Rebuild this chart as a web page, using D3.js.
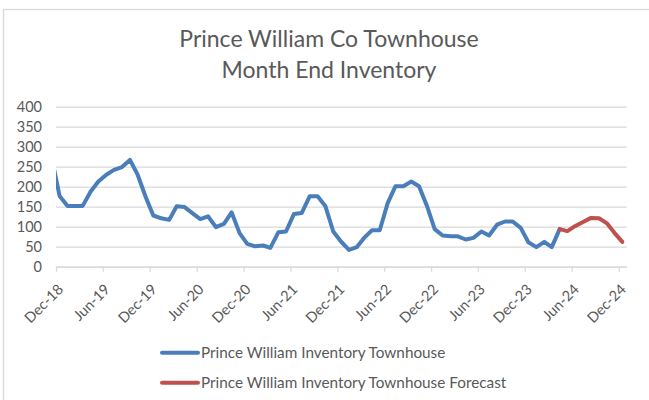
<!DOCTYPE html>
<html>
<head>
<meta charset="utf-8">
<script src="https://cdn.jsdelivr.net/npm/d3@7"></script>
<style>
  body { margin: 0; background: #fff; }
  text { font-family: Lato, "Open Sans", sans-serif; fill: #595959; }
</style>
</head>
<body>
<div id="chart"></div>
<script>
//chart data: monthly inventory, first value is Nov-18 (clipped at the axis start)
var inventoryStart = "2018-11";
var inventory = [270, 177, 152, 152, 152, 188, 213, 230, 242, 249, 267, 230,
  175, 128, 121, 117, 151, 149, 134, 119, 126, 99, 107, 136,
  84, 57, 51, 53, 47, 86, 88, 132, 134, 176, 176, 152,
  88, 63, 42, 49, 72, 91, 91, 159, 201, 201, 213, 201,
  152, 94, 78, 76, 76, 68, 72, 88, 78, 105, 113, 113,
  97, 61, 49, 62, 49, 94];

var forecastStart = "2024-04";
var forecast = [94, 89, 102, 112, 122, 121, 109, 84, 62];

var tickLabels = ["Dec-18", "Jun-19", "Dec-19", "Jun-20", "Dec-20", "Jun-21", "Dec-21",
  "Jun-22", "Dec-22", "Jun-23", "Dec-23", "Jun-24", "Dec-24"];
var yTicks = [0, 50, 100, 150, 200, 250, 300, 350, 400];

var titleLines = ["Prince William Co Townhouse", "Month End Inventory"];
var seriesNames = ["Prince William Inventory Townhouse", "Prince William Inventory Townhouse Forecast"];
var colors = ["#4a7ebb", "#c0504d"];

//sizes
var W = 649, H = 400;
var plot = {left: 56, right: 626.7, top: 106.7, bottom: 266.7};

var parseMonth = d3.timeParse("%Y-%m");
var parseTick = d3.timeParse("%b-%y");

//points sit at mid month
function toPoints(start, values) {
  var s = parseMonth(start);
  return values.map(function(v, i) {
    var m = d3.timeMonth.offset(s, i);
    return {date: d3.timeDay.offset(m, 14), value: v};
  });
}

var series = [toPoints(inventoryStart, inventory), toPoints(forecastStart, forecast)];

var x = d3.scaleTime()
  .domain([new Date(2018, 11, 1), new Date(2025, 0, 1)])
  .range([plot.left, plot.right]);

var y = d3.scaleLinear()
  .domain([0, 400])
  .range([plot.bottom, plot.top]);

var svg = d3.select("#chart").append("svg")
  .attr("width", W)
  .attr("height", H);

//chart border
svg.append("rect")
  .attr("x", 3.5).attr("y", 9.5)
  .attr("width", 700).attr("height", 420)
  .attr("fill", "none")
  .attr("stroke", "#d9d9d9")
  .attr("stroke-width", 1.3);

svg.append("clipPath").attr("id", "clip")
  .append("rect")
  .attr("x", plot.left).attr("y", 0)
  .attr("width", plot.right - plot.left + 6).attr("height", H);

//title
svg.append("text")
  .attr("x", 329)
  .attr("y", 47)
  .attr("text-anchor", "middle")
  .attr("font-size", 23)
  .selectAll("tspan")
  .data(titleLines)
  .enter().append("tspan")
    .attr("x", 329)
    .attr("dy", function(d, i) { return i ? 31 : 0; })
    .text(function(d) { return d; });

//y gridlines + labels
var yAxis = svg.append("g")
  .attr("transform", "translate(" + plot.left + ",0)")
  .call(d3.axisLeft(y).tickValues(yTicks).tickSize(-(plot.right - plot.left)).tickPadding(14));
yAxis.select(".domain").remove();
yAxis.selectAll(".tick line").attr("stroke", "#d9d9d9").attr("stroke-width", 1.3);
yAxis.selectAll(".tick text").attr("font-size", 14.5).attr("font-family", "Lato").attr("fill", "#595959");

//x axis
var xAxis = svg.append("g")
  .attr("transform", "translate(0," + plot.bottom + ")")
  .call(d3.axisBottom(x).tickValues(tickLabels.map(parseTick)).tickSize(5).tickSizeOuter(0)
    .tickFormat(d3.timeFormat("%b-%y")));
xAxis.select(".domain").attr("stroke", "#d9d9d9").attr("stroke-width", 1.3);
xAxis.selectAll(".tick line").attr("stroke", "#d9d9d9").attr("stroke-width", 1.3);
xAxis.selectAll(".tick text")
  .attr("font-size", 14.5)
  .attr("font-family", "Lato")
  .attr("fill", "#595959")
  .attr("x", 0).attr("y", 0).attr("dy", "0.35em")
  .attr("text-anchor", "end")
  .attr("transform", "translate(4,20) rotate(-45)");

//lines
var line = d3.line()
  .x(function(d) { return x(d.date); })
  .y(function(d) { return y(d.value); });

svg.append("g").attr("clip-path", "url(#clip)")
  .selectAll("path")
  .data(series)
  .enter().append("path")
    .attr("fill", "none")
    .attr("stroke", function(d, i) { return colors[i]; })
    .attr("stroke-width", 4)
    .attr("stroke-linejoin", "round")
    .attr("stroke-linecap", "round")
    .attr("d", line);

//legend
var legend = svg.selectAll(".legend")
  .data(seriesNames)
  .enter().append("g")
    .attr("class", "legend")
    .attr("transform", function(d, i) { return "translate(160," + (352.7 + i * 30) + ")"; });

legend.append("line")
  .attr("x1", 2).attr("x2", 38)
  .attr("stroke", function(d, i) { return colors[i]; })
  .attr("stroke-width", 4)
  .attr("stroke-linecap", "round");

legend.append("text")
  .attr("x", 41)
  .attr("dy", "0.35em")
  .attr("font-size", 15.3)
  .text(function(d) { return d; });
</script>
</body>
</html>
